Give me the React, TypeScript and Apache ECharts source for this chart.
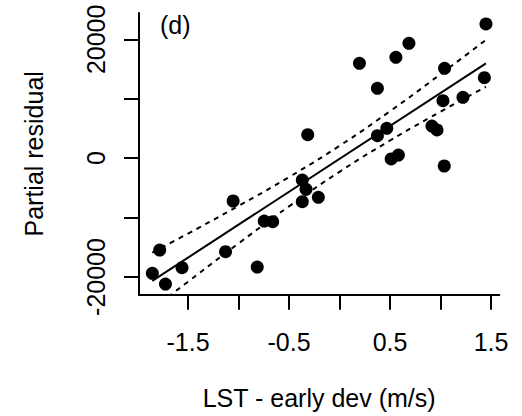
import React, { useEffect, useRef } from "react";
import * as echarts from "echarts";

// Data
const xValues = [1.45, 0.687, 0.558, 0.197, 1.04, 0.375, 1.434, 1.024, 1.222, 0.468, 0.375, 0.915, 0.965, -0.315, 0.511, 0.583, 1.037, -0.369, -0.332, -0.369, -0.21, -1.054, -0.746, -0.662, -1.781, -1.129, -1.56, -1.854, -0.815, -1.724];
const yValues = [22580, 19330, 16970, 15960, 15120, 11760, 13540, 9670, 10240, 5030, 3780, 5410, 4740, 3950, -140, 530, -1320, -3680, -5240, -7330, -6590, -7210, -10580, -10700, -15460, -15740, -18440, -19380, -18320, -21180];

const fitX = [-1.854, 1.45];
const fitY = [-20655, 15963];

const bandX = [-1.854, -1.5, -1, -0.5, 0, 0.5, 1, 1.45];
const bandUpper = [-15908, -12682, -8036, -3184, 2081, 7900, 14130, 19917];
const bandLower = [-25402, -20782, -14344, -8114, -2295, 2970, 7822, 12009];

const xTicks = [-1.5, -1, -0.5, 0, 0.5, 1, 1.5];
const xTickLabels = [-1.5, -0.5, 0.5, 1.5];
const yTicks = [-20000, -10000, 0, 10000, 20000];
const yTickLabels = [-20000, 0, 20000];

const xTitle = "LST - early dev (m/s)";
const yTitle = "Partial residual";
const panelLabel = "(d)";

const FONT = "'Liberation Sans', Arial, sans-serif";
const FS = 25;

export default function App() {
  const ref = useRef<HTMLDivElement>(null);
  useEffect(() => {
    if (!ref.current) return;
    const chart = echarts.init(ref.current, undefined, { renderer: "svg" });
    const zip = (a: number[], b: number[]) => a.map((v, i) => [v, b[i]]);
    const axisCommon = {
      axisLine: { show: true, onZero: false, lineStyle: { color: "#000", width: 2 } },
      splitLine: { show: false },
      nameTextStyle: { color: "#000", fontSize: FS, fontFamily: FONT },
    };
    chart.setOption({
      animation: false,
      backgroundColor: "#fff",
      grid: { left: 139, top: 13, right: 22.7, bottom: 121.3, containLabel: false },
      xAxis: {
        type: "value",
        min: -1.986,
        max: 1.582,
        ...axisCommon,
        name: xTitle,
        nameLocation: "middle",
        nameGap: 91,
        axisTick: { show: true, customValues: xTicks, length: 15, lineStyle: { color: "#000", width: 2 } },
        axisLabel: {
          customValues: xTickLabels,
          margin: 35,
          color: "#000",
          fontSize: FS,
          fontFamily: FONT,
          formatter: (v: number) => String(v),
        },
      },
      yAxis: {
        type: "value",
        min: -22980,
        max: 24430,
        ...axisCommon,
        name: yTitle,
        nameLocation: "middle",
        nameGap: 93,
        nameRotate: 90,
        axisTick: { show: true, customValues: yTicks, length: 15, lineStyle: { color: "#000", width: 2 } },
        axisLabel: {
          customValues: yTickLabels,
          rotate: 90,
          margin: 31,
          color: "#000",
          fontSize: FS,
          fontFamily: FONT,
          formatter: (v: number) => String(v),
        },
      },
      graphic: [
        {
          type: "text",
          x: 160,
          y: 12,
          style: { text: panelLabel, fontSize: FS, fontFamily: FONT, fill: "#000", verticalAlign: "top" },
        },
      ],
      series: [
        {
          type: "line",
          data: zip(bandX, bandUpper),
          showSymbol: false,
          smooth: true,
          lineStyle: { color: "#000", width: 2, type: [5, 5] },
        },
        {
          type: "line",
          data: zip(bandX, bandLower),
          showSymbol: false,
          smooth: true,
          lineStyle: { color: "#000", width: 2, type: [5, 5] },
        },
        {
          type: "line",
          data: zip(fitX, fitY),
          showSymbol: false,
          lineStyle: { color: "#000", width: 2 },
        },
        {
          type: "scatter",
          data: zip(xValues, yValues),
          symbol: "circle",
          symbolSize: 13,
          itemStyle: { color: "#000", opacity: 1 },
        },
      ],
    });
    return () => chart.dispose();
  }, []);
  return <div ref={ref} style={{ position: "fixed", left: 0, top: 0, width: 522, height: 416 }} />;
}
